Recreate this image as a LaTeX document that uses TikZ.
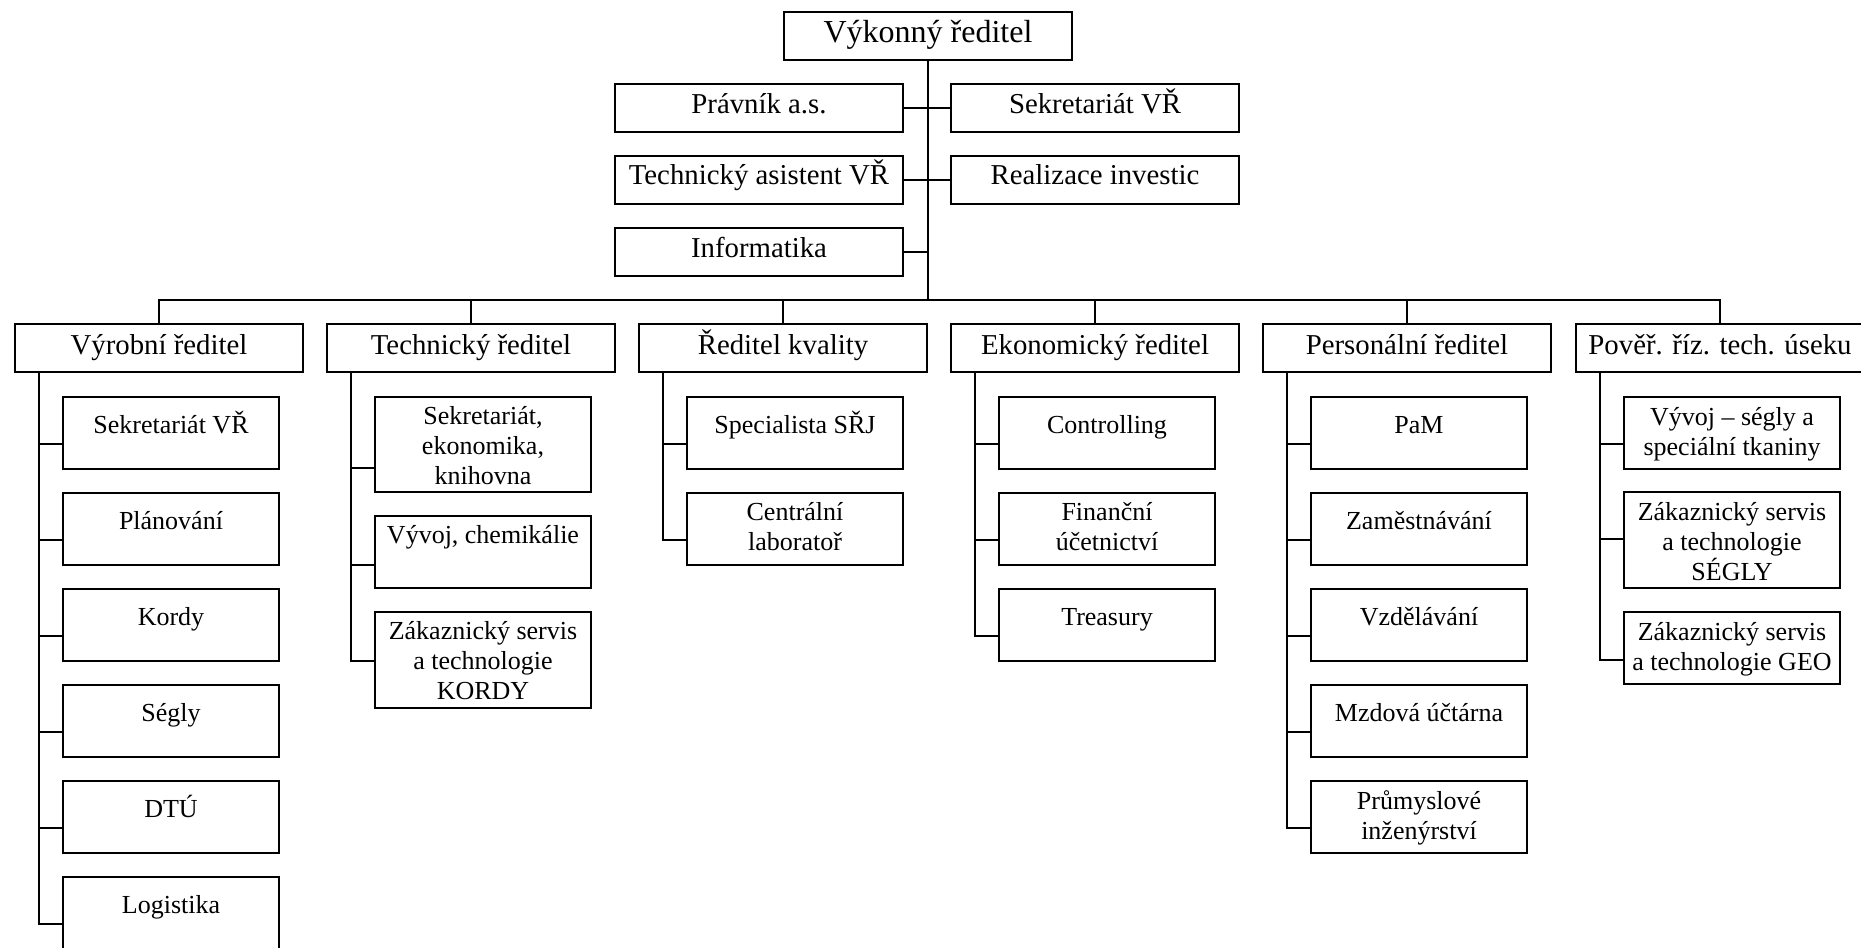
\documentclass[tikz,border=0pt]{standalone}
\usepackage{fontspec}
\setmainfont{Liberation Serif}
\usetikzlibrary{calc}

\newlength\px
\setlength\px{0.5pt}
% box contents: width, height, first baseline, text
\newcommand{\boxtext}[4]{\parbox[c][#2\px][t]{#1\px}{\centering\rule{0pt}{#3\px}#4}}

\begin{document}
\begin{tikzpicture}[x=0.5pt, y=-0.5pt, line width=1pt,
    box/.style ={draw, inner sep=0pt, outer sep=0pt, anchor=north west},
    headbox/.style ={box, font=\fontsize{16}{19}\selectfont},
    staffbox/.style ={box, font=\fontsize{14.4}{17}\selectfont},
    subbox/.style ={box, font=\fontsize{13}{15}\selectfont}]
   \useasboundingbox (0,0) rectangle (1861,947);

   % top
   \node[headbox] (ceo) at (784,12) {\boxtext{288}{48}{31}{Výkonný ředitel}};
   \node[staffbox] (law) at (615,84)  {\boxtext{288}{48}{29}{Právník a.s.}};
   \node[staffbox] (sec) at (951,84)  {\boxtext{288}{48}{29}{Sekretariát VŘ}};
   \node[staffbox] (tas) at (615,156) {\boxtext{288}{48}{29}{Technický asistent VŘ}};
   \node[staffbox] (inv) at (951,156) {\boxtext{288}{48}{29}{Realizace investic}};
   \node[staffbox] (inf) at (615,228) {\boxtext{288}{48}{29}{Informatika}};
   \coordinate (bus) at (928,300);

   % directors
   \node[staffbox] (vyr)  at (15,324)   {\boxtext{288}{48}{30}{Výrobní ředitel}};
   \node[staffbox] (tech) at (327,324)  {\boxtext{288}{48}{30}{Technický ředitel}};
   \node[staffbox] (kval) at (639,324)  {\boxtext{288}{48}{30}{Ředitel kvality}};
   \node[staffbox] (ekon) at (951,324)  {\boxtext{288}{48}{30}{Ekonomický ředitel}};
   \node[staffbox] (pers) at (1263,324) {\boxtext{288}{48}{30}{Personální ředitel}};
   \node[staffbox] (pov)  at (1576,324) {\boxtext{288}{48}{30}{Pověř. říz. tech. úseku}};

   % Vyrobni
   \node[subbox] (v1) at (63,397) {\boxtext{216}{72}{36}{Sekretariát VŘ}};
   \node[subbox] (v2) at (63,493) {\boxtext{216}{72}{36}{Plánování}};
   \node[subbox] (v3) at (63,589) {\boxtext{216}{72}{36}{Kordy}};
   \node[subbox] (v4) at (63,685) {\boxtext{216}{72}{36}{Ségly}};
   \node[subbox] (v5) at (63,781) {\boxtext{216}{72}{36}{DTÚ}};
   \node[subbox] (v6) at (63,877) {\boxtext{216}{72}{36}{Logistika}};

   % Technicky
   \node[subbox] (t1) at (375,397) {\boxtext{216}{95}{27}{Sekretariát,\\ ekonomika,\\ knihovna}};
   \node[subbox] (t2) at (375,516) {\boxtext{216}{72}{27}{Vývoj, chemikálie}};
   \node[subbox] (t3) at (375,612) {\boxtext{216}{96}{27}{Zákaznický servis\\ a technologie\\ KORDY}};

   % Kvalita
   \node[subbox] (k1) at (687,397) {\boxtext{216}{72}{36}{Specialista SŘJ}};
   \node[subbox] (k2) at (687,493) {\boxtext{216}{72}{27}{Centrální\\ laboratoř}};

   % Ekonomicky
   \node[subbox] (e1) at (999,397) {\boxtext{216}{72}{36}{Controlling}};
   \node[subbox] (e2) at (999,493) {\boxtext{216}{72}{27}{Finanční\\ účetnictví}};
   \node[subbox] (e3) at (999,589) {\boxtext{216}{72}{36}{Treasury}};

   % Personalni
   \node[subbox] (p1) at (1311,397) {\boxtext{216}{72}{36}{PaM}};
   \node[subbox] (p2) at (1311,493) {\boxtext{216}{72}{36}{Zaměstnávání}};
   \node[subbox] (p3) at (1311,589) {\boxtext{216}{72}{36}{Vzdělávání}};
   \node[subbox] (p4) at (1311,685) {\boxtext{216}{72}{36}{Mzdová účtárna}};
   \node[subbox] (p5) at (1311,781) {\boxtext{216}{72}{28}{Průmyslové\\ inženýrství}};

   % Povereny
   \node[subbox] (s1) at (1624,397) {\boxtext{216}{72}{28}{Vývoj – ségly a\\ speciální tkaniny}};
   \node[subbox] (s2) at (1624,492) {\boxtext{216}{96}{28}{Zákaznický servis\\ a technologie\\ SÉGLY}};
   \node[subbox] (s3) at (1624,612) {\boxtext{216}{72}{28}{Zákaznický servis\\ a technologie GEO}};

   % lines at the top
   \draw (ceo.south) -- (bus);
   \draw (law.east) -- (sec.west);
   \draw (tas.east) -- (inv.west);
   \draw (inf.east) -- (inf.east -| bus);
   \draw (vyr.north) -- (vyr.north |- bus) -| (pov.north);
   \draw (tech.north) -- (tech.north |- bus);
   \draw (kval.north) -- (kval.north |- bus);
   \draw (ekon.north) -- (ekon.north |- bus);
   \draw (pers.north) -- (pers.north |- bus);

   % trunks under the directors
   \path (vyr.south west) ++(24,0) coordinate (vyrT);
   \path (tech.south west) ++(24,0) coordinate (techT);
   \path (kval.south west) ++(24,0) coordinate (kvalT);
   \path (ekon.south west) ++(24,0) coordinate (ekonT);
   \path (pers.south west) ++(24,0) coordinate (persT);
   \path (pov.south west) ++(24,0) coordinate (povT);

   \draw (vyrT) |- ($(v1.north west)+(0,47)$);
   \draw (vyrT) |- ($(v2.north west)+(0,47)$);
   \draw (vyrT) |- ($(v3.north west)+(0,47)$);
   \draw (vyrT) |- ($(v4.north west)+(0,47)$);
   \draw (vyrT) |- ($(v5.north west)+(0,47)$);
   \draw (vyrT) |- ($(v6.north west)+(0,47)$);

   \draw (techT) |- ($(t1.north west)+(0,71)$);
   \draw (techT) |- ($(t2.north west)+(0,49)$);
   \draw (techT) |- ($(t3.north west)+(0,49)$);

   \draw (kvalT) |- ($(k1.north west)+(0,47)$);
   \draw (kvalT) |- ($(k2.north west)+(0,47)$);

   \draw (ekonT) |- ($(e1.north west)+(0,47)$);
   \draw (ekonT) |- ($(e2.north west)+(0,47)$);
   \draw (ekonT) |- ($(e3.north west)+(0,47)$);

   \draw (persT) |- ($(p1.north west)+(0,47)$);
   \draw (persT) |- ($(p2.north west)+(0,47)$);
   \draw (persT) |- ($(p3.north west)+(0,47)$);
   \draw (persT) |- ($(p4.north west)+(0,47)$);
   \draw (persT) |- ($(p5.north west)+(0,47)$);

   \draw (povT) |- ($(s1.north west)+(0,47)$);
   \draw (povT) |- ($(s2.north west)+(0,47)$);
   \draw (povT) |- ($(s3.north west)+(0,48)$);
\end{tikzpicture}
\end{document}
